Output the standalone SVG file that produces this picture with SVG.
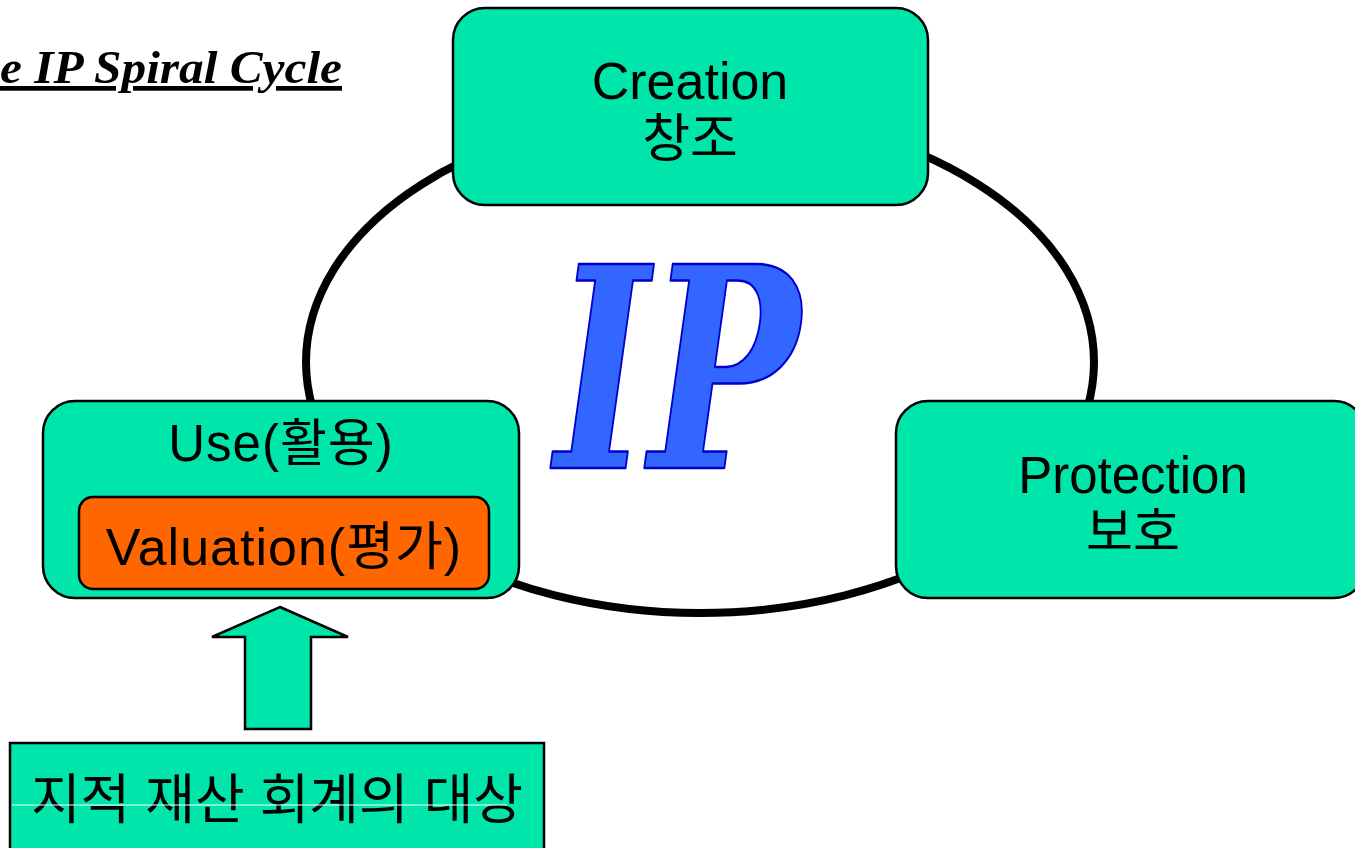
<svg xmlns="http://www.w3.org/2000/svg" width="1355" height="848" viewBox="0 0 1355 848">
  <style>
    .box { fill: #00E5AA; stroke: #000; stroke-width: 2.5; }
    .lbl { font-family: "Liberation Sans", "Noto Sans CJK KR", Arial, sans-serif; fill: #000; text-anchor: middle; }
  </style>
  <rect width="1355" height="848" fill="#fff"/>

  <!-- title -->
  <text x="0" y="83" textLength="342" lengthAdjust="spacingAndGlyphs" font-family="Liberation Serif, 'Times New Roman', serif" font-size="47" font-weight="bold" font-style="italic" text-decoration="underline" fill="#000">e IP Spiral Cycle</text>

  <!-- cycle ring and the feed arrow -->
  <g id="connectors">
    <ellipse cx="700" cy="362" rx="394" ry="251" fill="none" stroke="#000" stroke-width="8"/>
    <path d="M280 607 L348 637 L311 637 L311 729 L245 729 L245 637 L212 637 Z" fill="#00E5AA" stroke="#000" stroke-width="2.5" stroke-linejoin="miter"/>
  </g>

  <!-- central IP mark -->
  <g id="ip-mark">
    <text x="555" y="468" textLength="245" lengthAdjust="spacingAndGlyphs" font-family="DejaVu Serif, serif" font-size="280" font-weight="bold" font-style="italic" fill="#3366FF" stroke="#0000CC" stroke-width="2.5" stroke-linejoin="round">IP</text>
  </g>

  <g id="creation">
    <rect class="box" x="453" y="8" width="475" height="197" rx="32"/>
    <text class="lbl" x="690" y="99" font-size="52">Creation</text>
    <text class="lbl" x="690" y="157" font-size="52">창조</text>
  </g>

  <g id="protection">
    <rect class="box" x="896" y="401" width="470" height="197" rx="32"/>
    <text class="lbl" x="1133" y="493" font-size="51">Protection</text>
    <text class="lbl" x="1133" y="550" font-size="51">보호</text>
  </g>

  <g id="use">
    <rect class="box" x="43" y="401" width="476" height="197" rx="32"/>
    <text class="lbl" x="281" y="461" font-size="51" letter-spacing="1">Use(활용)</text>
  </g>

  <g id="valuation">
    <rect x="79" y="497" width="410" height="92" rx="14" fill="#FF6600" stroke="#000" stroke-width="2.5"/>
    <text class="lbl" x="284" y="565" font-size="52" letter-spacing="1">Valuation(평가)</text>
  </g>

  <g id="accounting-target">
    <rect class="box" x="10" y="743" width="534" height="120"/>
    <text class="lbl" x="277" y="819" font-size="54">지적 재산 회계의 대상</text>
    <line x1="12" y1="805" x2="507" y2="805" stroke="#fff" stroke-width="1"/>
  </g>
</svg>
